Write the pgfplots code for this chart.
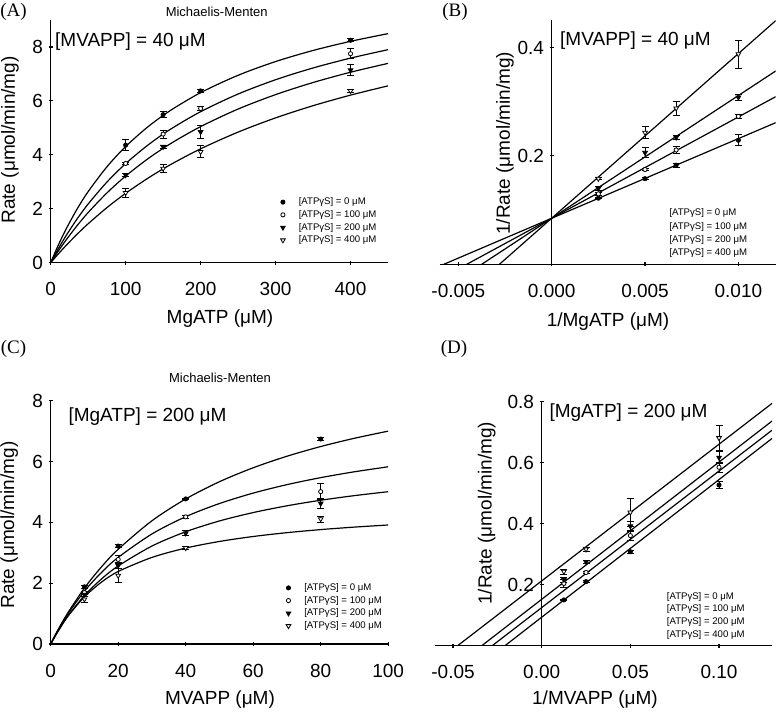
\documentclass[border=0pt]{standalone}
\usepackage{pgfplots}
\pgfplotsset{compat=1.18}
\usepackage{fontspec}
\setmainfont{Liberation Sans}
\newfontfamily\panelfont{Liberation Serif}
\newcommand\bigf{\fontsize{19}{22}\selectfont}
\newcommand\legf{\fontsize{9.6}{11.5}\selectfont}
\newcommand\titf{\fontsize{13}{15}\selectfont}
\pgfplotsset{
  panel/.style={scale only axis,
    every tick/.style={black, line width=1.1pt}, tick align=outside, major tick length=4pt,
    tick label style={font=\bigf},
    xticklabel style={anchor=center, inner sep=0pt, yshift=-24.5pt},
    yticklabel style={anchor=east, inner sep=0pt, xshift=-5.5pt},
    scaled ticks=false, minor tick num=0,
    hide obscured x ticks=false, hide obscured y ticks=false},
  noarrows/.style={
    every outer x axis line/.append style={-}, every outer y axis line/.append style={-},
    every inner x axis line/.append style={-}, every inner y axis line/.append style={-},
    axis line style={-, line width=1.2pt, black}},
  fitline/.style={black, line width=1.2pt, no marks, forget plot},
  eb/.style={error bars/y dir=both, error bars/y explicit,
    error bars/error bar style={line width=0.9pt, black, solid},
    error bars/error mark options={rotate=90, line width=0.9pt, mark size=3.5pt, black, solid}},
  s0/.style={only marks, mark=*, mark size=2.1pt, mark options={fill=black, draw=black, line width=0.8pt}, eb},
  s100/.style={only marks, mark=*, mark size=2.1pt, mark options={fill=white, draw=black, line width=0.8pt}, eb},
  s200/.style={only marks, mark=triangle*, mark size=2.7pt, mark options={fill=black, draw=black, rotate=180, line width=0.8pt}, eb},
  s400/.style={only marks, mark=triangle*, mark size=2.7pt, mark options={fill=white, draw=black, rotate=180, line width=0.8pt}, eb},
  mylegend/.style={legend style={draw=none, fill=none, at={#1}, anchor=north west, inner sep=0pt,
      row sep=3.7pt, column sep=13.5pt, font=\legf,
      nodes={inner sep=0pt, text height=7pt, text depth=2pt, anchor=west}},
    legend cell align=left,
    legend image code/.code={\draw[##1] plot coordinates {(0pt,0pt)};}},
}
\begin{document}
\begin{tikzpicture}[x=1pt,y=1pt]
% ---------------- Panel A ----------------
\begin{axis}[panel, at={(50.7pt,449.3pt)}, anchor=south west, width=337.3pt, height=242.7pt,
  axis x line=bottom, axis y line=left, noarrows,
  xmin=0, xmax=450, ymin=0, ymax=9,
  xtick={0,100,200,300,400}, xticklabels={0,100,200,300,400},
  ytick={0,2,4,6,8}, yticklabels={0,2,4,6,8},
  mylegend={(0.681,0.269)}]
\addplot[fitline, smooth] coordinates {(0,0) (5,0.330) (10,0.643) (20,1.219) (35,1.979) (50,2.637) (75,3.556) (100,4.308) (130,5.046) (160,5.650) (200,6.306) (250,6.950) (300,7.459) (350,7.870) (400,8.209) (450,8.494)};
\addplot[fitline, smooth] coordinates {(0,0) (5,0.261) (10,0.511) (20,0.980) (35,1.614) (50,2.178) (75,2.990) (100,3.675) (130,4.368) (160,4.952) (200,5.600) (250,6.255) (300,6.785) (350,7.221) (400,7.587) (450,7.899)};
\addplot[fitline, smooth] coordinates {(0,0) (5,0.217) (10,0.426) (20,0.822) (35,1.367) (50,1.861) (75,2.587) (100,3.213) (130,3.861) (160,4.417) (200,5.047) (250,5.698) (300,6.233) (350,6.682) (400,7.063) (450,7.391)};
\addplot[fitline, smooth] coordinates {(0,0) (5,0.162) (10,0.320) (20,0.624) (35,1.050) (50,1.445) (75,2.042) (100,2.573) (130,3.139) (160,3.639) (200,4.223) (250,4.843) (300,5.370) (350,5.822) (400,6.214) (450,6.558)};
\addplot[s0] coordinates {(100,4.36) +- (0,0.21) (150,5.49) +- (0,0.12) (200,6.37) +- (0,0.06) (400,8.25) +- (0,0.06)};
\addlegendentry{[ATPγS] = 0 μM}
\addplot[s100] coordinates {(100,3.68) +- (0,0.05) (150,4.77) +- (0,0.15) (200,5.72) +- (0,0.06) (400,7.75) +- (0,0.18)};
\addlegendentry{[ATPγS] = 100 μM}
\addplot[s200] coordinates {(100,3.25) +- (0,0.05) (150,4.30) +- (0,0.05) (200,4.85) +- (0,0.25) (400,7.14) +- (0,0.20)};
\addlegendentry{[ATPγS] = 200 μM}
\addplot[s400] coordinates {(100,2.59) +- (0,0.17) (150,3.49) +- (0,0.15) (200,4.11) +- (0,0.22) (400,6.37) +- (0,0.07)};
\addlegendentry{[ATPγS] = 400 μM}
\end{axis}
% ---------------- Panel B ----------------
\begin{axis}[panel, at={(439.7pt,447.7pt)}, anchor=south west, width=336pt, height=243.8pt,
  axis x line=bottom, axis y line=center, noarrows,
  xmin=-0.006, xmax=0.012, ymin=0, ymax=0.45,
  xtick={-0.005,0,0.005,0.01}, xticklabels={-0.005,0.000,0.005,0.010},
  ytick={0.2,0.4}, yticklabels={0.2,0.4}]
\addplot[fitline] coordinates {(-0.00578,0) (0.012,0.2614)};
\addplot[fitline] coordinates {(-0.00455,0) (0.012,0.3094)};
\addplot[fitline] coordinates {(-0.00375,0) (0.012,0.3568)};
\addplot[fitline] coordinates {(-0.0028,0) (0.012,0.4497)};
\addplot[s0] coordinates {(0.0025,0.122) +- (0,0.0012) (0.005,0.158) +- (0,0.0015) (0.006667,0.183) +- (0,0.004) (0.01,0.229) +- (0,0.010)};
\addplot[s100] coordinates {(0.0025,0.130) +- (0,0.003) (0.005,0.175) +- (0,0.002) (0.006667,0.211) +- (0,0.0066) (0.01,0.273) +- (0,0.004)};
\addplot[s200] coordinates {(0.0025,0.140) +- (0,0.004) (0.005,0.206) +- (0,0.0095) (0.006667,0.234) +- (0,0.003) (0.01,0.308) +- (0,0.005)};
\addplot[s400] coordinates {(0.0025,0.158) +- (0,0.002) (0.005,0.243) +- (0,0.011) (0.006667,0.288) +- (0,0.0125) (0.01,0.388) +- (0,0.026)};
\end{axis}
% ---------------- Panel C ----------------
\begin{axis}[panel, at={(50.7pt,68pt)}, anchor=south west, width=337.5pt, height=243.3pt,
  axis x line=bottom, axis y line=left, noarrows,
  xmin=0, xmax=100, ymin=0, ymax=8,
  xtick={0,20,40,60,80,100}, xticklabels={0,20,40,60,80,100},
  ytick={0,2,4,6,8}, yticklabels={0,2,4,6,8},
  mylegend={(0.697,0.250)}]
\addplot[fitline, smooth] coordinates {(0,0) (2,0.430) (5,1.011) (10,1.839) (15,2.530) (20,3.115) (30,4.052) (40,4.769) (50,5.336) (60,5.795) (70,6.174) (80,6.493) (90,6.765) (100,6.999)};
\addplot[fitline, smooth] coordinates {(0,0) (2,0.422) (5,0.976) (10,1.738) (15,2.348) (20,2.848) (30,3.619) (40,4.186) (50,4.619) (60,4.962) (70,5.240) (80,5.470) (90,5.663) (100,5.827)};
\addplot[fitline, smooth] coordinates {(0,0) (2,0.396) (5,0.907) (10,1.595) (15,2.133) (20,2.566) (30,3.221) (40,3.691) (50,4.046) (60,4.322) (70,4.544) (80,4.727) (90,4.879) (100,5.008)};
\addplot[fitline, smooth] coordinates {(0,0) (2,0.380) (5,0.900) (10,1.55) (15,2.030) (20,2.384) (30,2.847) (40,3.154) (50,3.372) (60,3.535) (70,3.661) (80,3.762) (90,3.844) (100,3.913)};
\addplot[s0] coordinates {(10,1.88) +- (0,0.05) (20,3.22) +- (0,0.05) (40,4.77) +- (0,0.03) (80,6.74) +- (0,0.05)};
\addlegendentry{[ATPγS] = 0 μM}
\addplot[s100] coordinates {(10,1.69) +- (0,0.05) (20,2.78) +- (0,0.12) (40,4.18) +- (0,0.04) (80,5.01) +- (0,0.27)};
\addlegendentry{[ATPγS] = 100 μM}
\addplot[s200] coordinates {(10,1.62) +- (0,0.05) (20,2.58) +- (0,0.10) (40,3.64) +- (0,0.08) (80,4.62) +- (0,0.15)};
\addlegendentry{[ATPγS] = 200 μM}
\addplot[s400] coordinates {(10,1.47) +- (0,0.10) (20,2.25) +- (0,0.22) (40,3.16) +- (0,0.05) (80,4.11) +- (0,0.10)};
\addlegendentry{[ATPγS] = 400 μM}
\end{axis}
% ---------------- Panel D ----------------
\begin{axis}[panel, at={(435.3pt,66.3pt)}, anchor=south west, width=336.9pt, height=244pt,
  axis x line=bottom, axis y line=center, noarrows,
  xmin=-0.06, xmax=0.13, ymin=0, ymax=0.8,
  xtick={-0.05,0,0.05,0.1}, xticklabels={-0.05,0.00,0.05,0.10},
  ytick={0.2,0.4,0.6,0.8}, yticklabels={0.2,0.4,0.6,0.8}]
\addplot[fitline] coordinates {(-0.0207,0) (0.13,0.680)};
\addplot[fitline] coordinates {(-0.0279,0) (0.13,0.707)};
\addplot[fitline] coordinates {(-0.0338,0) (0.13,0.737)};
\addplot[fitline] coordinates {(-0.0474,0) (0.13,0.795)};
\addplot[s0] coordinates {(0.0125,0.150) +- (0,0.003) (0.025,0.210) +- (0,0.003) (0.05,0.308) +- (0,0.005) (0.1,0.527) +- (0,0.012)};
\addplot[s100] coordinates {(0.0125,0.204) +- (0,0.012) (0.025,0.240) +- (0,0.003) (0.05,0.361) +- (0,0.015) (0.1,0.585) +- (0,0.017)};
\addplot[s200] coordinates {(0.0125,0.217) +- (0,0.008) (0.025,0.275) +- (0,0.006) (0.05,0.392) +- (0,0.015) (0.1,0.617) +- (0,0.020)};
\addplot[s400] coordinates {(0.0125,0.243) +- (0,0.008) (0.025,0.316) +- (0,0.006) (0.05,0.437) +- (0,0.045) (0.1,0.681) +- (0,0.040)};
\end{axis}
% ---------------- Text ----------------
\node[font=\panelfont\bigf, inner sep=0pt] at (13.5,700.5) {(A)};
\node[font=\panelfont\bigf, inner sep=0pt] at (455,700.3) {(B)};
\node[font=\panelfont\bigf, inner sep=0pt] at (13.5,363) {(C)};
\node[font=\panelfont\bigf, inner sep=0pt] at (454,363) {(D)};
\node[font=\titf, inner sep=0pt] at (216.7,700.3) {Michaelis-Menten};
\node[font=\titf, inner sep=0pt] at (220,333.7) {Michaelis-Menten};
\node[font=\bigf, inner sep=0pt, anchor=base west] at (55,665.5) {[MVAPP] = 40 μM};
\node[font=\bigf, inner sep=0pt, anchor=base west] at (560,666) {[MVAPP] = 40 μM};
\node[font=\bigf, inner sep=0pt, anchor=base west] at (68.3,290.3) {[MgATP] = 200 μM};
\node[font=\bigf, inner sep=0pt, anchor=base west] at (549.3,294.3) {[MgATP] = 200 μM};
\node[font=\bigf, inner sep=0pt] at (220,393.7) {MgATP (μM)};
\node[font=\bigf, inner sep=0pt, rotate=90] at (10,572) {Rate (μmol/min/mg)};
\node[font=\bigf, inner sep=0pt] at (608,390.3) {1/MgATP (μM)};
\node[font=\bigf, inner sep=0pt, rotate=90] at (505,568.7) {1/Rate (μmol/min/mg)};
\node[font=\bigf, inner sep=0pt] at (220,12) {MVAPP (μM)};
\node[font=\bigf, inner sep=0pt, rotate=90] at (9.3,187) {Rate (μmol/min/mg)};
\node[font=\bigf, inner sep=0pt] at (595,12) {1/MVAPP (μM)};
\node[font=\bigf, inner sep=0pt, rotate=90] at (486.7,198.7) {1/Rate (μmol/min/mg)};
\node[font=\legf, inner sep=0pt, anchor=base west] at (669.3,496.3) {[ATPγS] = 0 μM};
\node[font=\legf, inner sep=0pt, anchor=base west] at (669.3,482.6) {[ATPγS] = 100 μM};
\node[font=\legf, inner sep=0pt, anchor=base west] at (669.3,469.3) {[ATPγS] = 200 μM};
\node[font=\legf, inner sep=0pt, anchor=base west] at (669.3,456.9) {[ATPγS] = 400 μM};
\node[font=\legf, inner sep=0pt, anchor=base west] at (666.7,112.6) {[ATPγS] = 0 μM};
\node[font=\legf, inner sep=0pt, anchor=base west] at (666.7,100.3) {[ATPγS] = 100 μM};
\node[font=\legf, inner sep=0pt, anchor=base west] at (666.7,87.3) {[ATPγS] = 200 μM};
\node[font=\legf, inner sep=0pt, anchor=base west] at (666.7,74.6) {[ATPγS] = 400 μM};
\pgfresetboundingbox
\path[use as bounding box] (0,0) rectangle (778,712);
\end{tikzpicture}
\end{document}
